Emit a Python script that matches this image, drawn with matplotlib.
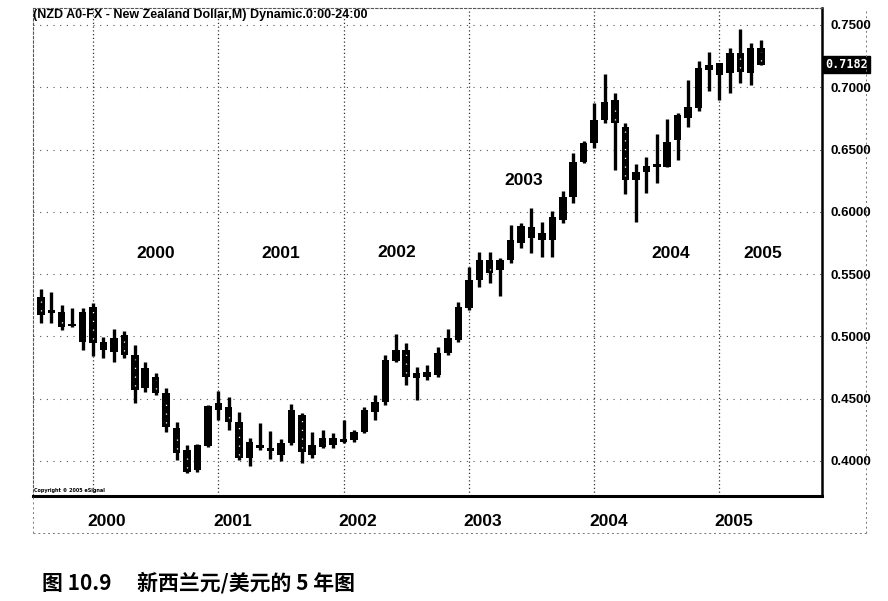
import numpy as np
import matplotlib.pyplot as plt
from matplotlib.lines import Line2D

# 月线数据 1999-08 ~ 2005-05
months = ['1999-08', '1999-09', '1999-10', '1999-11', '1999-12',
          '2000-01', '2000-02', '2000-03', '2000-04', '2000-05', '2000-06',
          '2000-07', '2000-08', '2000-09', '2000-10', '2000-11', '2000-12',
          '2001-01', '2001-02', '2001-03', '2001-04', '2001-05', '2001-06',
          '2001-07', '2001-08', '2001-09', '2001-10', '2001-11', '2001-12',
          '2002-01', '2002-02', '2002-03', '2002-04', '2002-05', '2002-06',
          '2002-07', '2002-08', '2002-09', '2002-10', '2002-11', '2002-12',
          '2003-01', '2003-02', '2003-03', '2003-04', '2003-05', '2003-06',
          '2003-07', '2003-08', '2003-09', '2003-10', '2003-11', '2003-12',
          '2004-01', '2004-02', '2004-03', '2004-04', '2004-05', '2004-06',
          '2004-07', '2004-08', '2004-09', '2004-10', '2004-11', '2004-12',
          '2005-01', '2005-02', '2005-03', '2005-04', '2005-05']

opens = [0.5316, 0.5210, 0.5196, 0.5080, 0.4955,
         0.5238, 0.4958, 0.4875, 0.5011, 0.4851, 0.4586,
         0.4677, 0.4546, 0.4265, 0.4088, 0.3928, 0.4120,
         0.4463, 0.4436, 0.4315, 0.4021, 0.4128, 0.4104,
         0.4048, 0.4142, 0.4369, 0.4048, 0.4115, 0.4182,
         0.4155, 0.4169, 0.4235, 0.4396, 0.4476, 0.4805,
         0.4891, 0.4704, 0.4677, 0.4690, 0.4864, 0.4971,
         0.5225, 0.5453, 0.5613, 0.5533, 0.5613, 0.5747,
         0.5880, 0.5827, 0.5774, 0.5934, 0.6121, 0.6402,
         0.6550, 0.6737, 0.6897, 0.6683, 0.6255, 0.6318,
         0.6384, 0.6362, 0.6576, 0.6750, 0.6830, 0.7178,
         0.7191, 0.7112, 0.7272, 0.7112, 0.7312]
highs = [0.5380, 0.5356, 0.5250, 0.5228, 0.5228,
         0.5270, 0.4998, 0.5060, 0.5046, 0.4931, 0.4797,
         0.4706, 0.4586, 0.4315, 0.4128, 0.4134, 0.4450,
         0.4562, 0.4516, 0.4390, 0.4182, 0.4302, 0.4243,
         0.4174, 0.4457, 0.4388, 0.4235, 0.4249, 0.4222,
         0.4329, 0.4249, 0.4436, 0.4530, 0.4851, 0.5017,
         0.4950, 0.4752, 0.4770, 0.4912, 0.5057, 0.5279,
         0.5555, 0.5680, 0.5680, 0.5627, 0.5894, 0.5908,
         0.6028, 0.5921, 0.6009, 0.6169, 0.6470, 0.6571,
         0.6876, 0.7106, 0.6956, 0.6710, 0.6384, 0.6443,
         0.6624, 0.6747, 0.6790, 0.7058, 0.7213, 0.7280,
         0.7197, 0.7312, 0.7464, 0.7352, 0.7379]
lows = [0.5110, 0.5108, 0.5050, 0.5076, 0.4890,
        0.4843, 0.4827, 0.4797, 0.4827, 0.4466, 0.4557,
        0.4530, 0.4235, 0.4008, 0.3904, 0.3914, 0.4115,
        0.4329, 0.4249, 0.4008, 0.3960, 0.4088, 0.4013,
        0.4000, 0.4128, 0.3981, 0.4021, 0.4102, 0.4102,
        0.4142, 0.4155, 0.4222, 0.4329, 0.4449, 0.4797,
        0.4610, 0.4490, 0.4650, 0.4677, 0.4851, 0.4957,
        0.5212, 0.5400, 0.5427, 0.5324, 0.5592, 0.5707,
        0.5667, 0.5640, 0.5640, 0.5908, 0.6068, 0.6389,
        0.6510, 0.6710, 0.6336, 0.6143, 0.5921, 0.6155,
        0.6234, 0.6362, 0.6416, 0.6678, 0.6811, 0.6972,
        0.6897, 0.6956, 0.7036, 0.7018, 0.7178]
closes = [0.5172, 0.5190, 0.5076, 0.5100, 0.5196,
          0.4947, 0.4891, 0.4987, 0.4851, 0.4570, 0.4746,
          0.4546, 0.4275, 0.4064, 0.3914, 0.4128, 0.4441,
          0.4409, 0.4315, 0.4021, 0.4155, 0.4104, 0.4080,
          0.4142, 0.4409, 0.4075, 0.4128, 0.4182, 0.4128,
          0.4180, 0.4235, 0.4409, 0.4476, 0.4811, 0.4891,
          0.4677, 0.4663, 0.4717, 0.4864, 0.4985, 0.5238,
          0.5453, 0.5613, 0.5506, 0.5613, 0.5774, 0.5886,
          0.5787, 0.5774, 0.5961, 0.6121, 0.6402, 0.6550,
          0.6737, 0.6884, 0.6710, 0.6255, 0.6322, 0.6368,
          0.6357, 0.6563, 0.6777, 0.6843, 0.7151, 0.7138,
          0.7098, 0.7272, 0.7125, 0.7312, 0.7182]

price_ticks = [0.40, 0.45, 0.50, 0.55, 0.60, 0.65, 0.70, 0.75]
years = ['2000', '2001', '2002', '2003', '2004', '2005']
# 图内年份标注 (x为月序号, y为价格)
inner_labels = [('2000', 11.0, 0.5665), ('2001', 23.0, 0.5665), ('2002', 34.1, 0.5675),
                ('2003', 46.3, 0.6255), ('2004', 60.3, 0.5665), ('2005', 69.2, 0.5665)]
last_price = '0.7182'

x = np.arange(len(months))
opens = np.array(opens)
closes = np.array(closes)
highs = np.array(highs)
lows = np.array(lows)
year_pos = [months.index(y + '-01') for y in years]

fig = plt.figure(figsize=(8.88, 6.01), dpi=100)
ax = fig.add_axes([33 / 888, 1 - 496 / 601, 789 / 888, 488 / 601])

# 网格
for p in price_ticks:
    ax.axhline(p, color='#555555', lw=0.8, ls=(0, (1, 5)), zorder=0)
for xp in year_pos:
    ax.axvline(xp, color='#333333', lw=0.9, ls=(0, (1, 2)), zorder=0)

# K线
up = closes >= opens
body_bot = np.minimum(opens, closes)
body_h = np.maximum(np.abs(closes - opens), 0.0022)
ax.vlines(x, lows, highs, color='black', lw=2.4, zorder=2)
ax.bar(x, body_h, bottom=body_bot, width=0.72, color='black', zorder=3)
# 阴线的空心部分在扫描图里只剩下一些白点
for i in np.where(~up)[0]:
    if body_h[i] > 0.010:
        ax.vlines(x[i], body_bot[i] + 0.003, body_bot[i] + body_h[i] - 0.003,
                  color='white', lw=0.9, ls=(0, (1, 6)), zorder=4)

ax.set_xlim(-0.75, 74.83)
ax.set_ylim(0.3719, 0.7636)

# 坐标轴
ax.yaxis.tick_right()
ax.set_yticks(price_ticks)
ax.set_yticklabels(['%.4f' % p for p in price_ticks], fontsize=9.5, fontweight='bold',
                   family='Liberation Sans')
ax.tick_params(axis='y', length=0, pad=6)
ax.set_xticks(year_pos)
ax.set_xticklabels([])
ax.set_xticks([p + 1.35 for p in year_pos], minor=True)
ax.set_xticklabels(years, minor=True, fontsize=12.5, fontweight='bold', family='Liberation Sans')
ax.tick_params(axis='x', which='both', length=0, pad=13)

ax.spines['bottom'].set_linewidth(2.2)
ax.spines['right'].set_linewidth(1.8)
for s in ['top', 'left']:
    ax.spines[s].set_linestyle((0, (2, 2)))
    ax.spines[s].set_linewidth(0.8)
    ax.spines[s].set_color('#555555')

# 标题和注释
ax.text(0.0, 0.985, '(NZD A0-FX - New Zealand Dollar,M) Dynamic.0:00-24:00',
        transform=ax.transAxes, fontsize=9, fontweight='bold', family='Liberation Sans',
        va='center', ha='left')
ax.text(0.001, 0.012, 'Copyright © 2005 eSignal', transform=ax.transAxes,
        fontsize=3.5, fontweight='bold', va='center', ha='left')
for t, xi, yi in inner_labels:
    ax.text(xi, yi, t, fontsize=12.5, fontweight='bold', family='Liberation Sans',
            ha='center', va='center')

# 最新价格框
ax.text(1.004, 0.7182, last_price, transform=ax.get_yaxis_transform(),
        fontsize=8.5, color='white', family='DejaVu Sans Mono', fontweight='bold',
        va='center', ha='left',
        bbox=dict(boxstyle='square,pad=0.15', fc='black', ec='black'))

# 外框的虚线
fig.add_artist(Line2D([33 / 888, 866 / 888], [1 - 533 / 601, 1 - 533 / 601],
                      transform=fig.transFigure, color='#777777', lw=0.7, ls=(0, (2, 3))))
fig.add_artist(Line2D([866 / 888, 866 / 888], [1 - 533 / 601, 1 - 8 / 601],
                      transform=fig.transFigure, color='#777777', lw=0.7, ls=(0, (2, 3))))
fig.add_artist(Line2D([33 / 888, 33 / 888], [1 - 533 / 601, 1 - 496 / 601],
                      transform=fig.transFigure, color='#777777', lw=0.7, ls=(0, (2, 3))))

fig.text(42 / 888, 1 - 583 / 601, '图 10.9　 新西兰元/美元的 5 年图',
         fontsize=15, fontweight='bold', family=['Noto Sans CJK SC', 'DejaVu Sans'],
         va='center', ha='left')

fig.savefig('out.png', dpi=100)
